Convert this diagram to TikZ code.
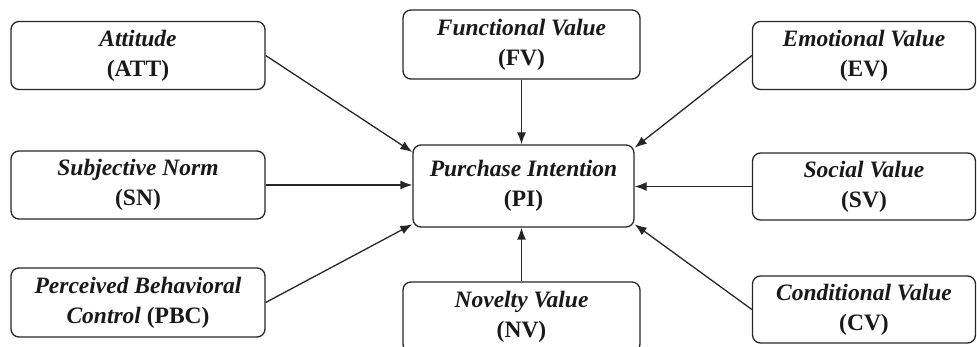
\documentclass[tikz,border=0pt]{standalone}
\usepackage{fontspec}
\setmainfont{Liberation Serif}
\usetikzlibrary{positioning,arrows.meta}

\begin{document}
\begin{tikzpicture}[x=1pt,y=-1pt,>={Latex[length=12pt,width=9pt]},
    construct/.style={draw=black!85, rounded corners=8pt, line width=1.3pt,
        align=center, inner sep=0pt, text=black!90,
        font=\fontsize{23.5}{30}\selectfont\bfseries},
    sidebox/.style={construct, minimum width=254pt, minimum height=68pt},
    midbox/.style={construct, minimum width=237pt, minimum height=69pt},
    rightbox/.style={construct, minimum width=223pt, minimum height=68pt},
    link/.style={->, draw=black!85, line width=1.3pt}]
        \useasboundingbox (0,0) rectangle (977,347);

        % the constructs on the left
        \node[sidebox] (ATT) at (138,55.5) {\textit{Attitude}\\(ATT)};
        \node[sidebox] (SN)  at (138,185)  {\textit{Subjective Norm}\\(SN)};
        \node[sidebox, minimum height=69pt] (PBC) at (138,302.5) {\textit{Perceived Behavioral}\\\textit{Control} (PBC)};

        % the column in the middle
        \node[midbox] (FV) at (521.5,44.5) {\textit{Functional Value}\\(FV)};
        \node[construct, minimum width=221pt, minimum height=82pt] (PI) at (523.5,186) {\textit{Purchase Intention}\\(PI)};
        \node[midbox, minimum height=70pt] (NV) at (521.5,317) {\textit{Novelty Value}\\(NV)};

        % the constructs on the right
        \node[rightbox] (EV) at (864,55.5)  {\textit{Emotional Value}\\(EV)};
        \node[rightbox, minimum height=67pt] (SV) at (864,186.5) {\textit{Social Value}\\(SV)};
        \node[rightbox, minimum height=67pt] (CV) at (864,309.5) {\textit{Conditional Value}\\(CV)};

        % the paths into PI
        \draw[link] (ATT.east) -- (PI.163);
        \draw[link] (SN.east) -- (SN.east -| PI.west);
        \draw[link] (PBC.east) -- (PI.199);
        \draw[link] (FV.south) -- (FV.south |- PI.north);
        \draw[link] (NV.north) -- (NV.north |- PI.south);
        \draw[link] (EV.west) -- (PI.19);
        \draw[link] (SV.west) -- (SV.west -| PI.east);
        \draw[link] (CV.west) -- (PI.-19);
\end{tikzpicture}
\end{document}
